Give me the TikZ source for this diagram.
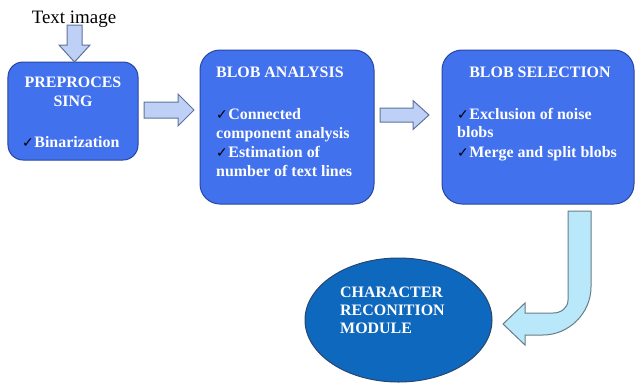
\documentclass[tikz,border=0pt]{standalone}
\usepackage{fontspec}
\setmainfont{Liberation Serif}
\newfontfamily\tms{Liberation Serif}
\newfontfamily\dvs{DejaVu Sans}
\usetikzlibrary{shapes.geometric}
\definecolor{boxfill}{RGB}{66,113,238}
\definecolor{boxline}{RGB}{40,70,160}
\definecolor{ellfill}{RGB}{14,104,190}
\definecolor{ellline}{RGB}{40,70,110}
\definecolor{arrfill}{RGB}{190,208,245}
\definecolor{arrline}{RGB}{95,115,155}
\definecolor{bentfill}{RGB}{185,232,250}
\definecolor{bentline}{RGB}{105,125,135}
\newcommand\ck{{\dvs\fontsize{14}{14}\selectfont\textcolor{black}{✓}}\hspace{0.5bp}}
\tikzset{
  stagebox/.style={draw=boxline, fill=boxfill, line width=1bp, inner sep=0pt},
  modell/.style={ellipse, draw=ellline, fill=ellfill, line width=1bp, inner sep=0pt},
  wtxt/.style={text=white, inner sep=0pt, font=\tms\bfseries\fontsize{16}{19}\selectfont},
  wl/.style={wtxt, anchor=base west},
  wc/.style={wtxt, anchor=base},
  blockarrow/.style={draw=arrline, fill=arrfill, line width=1bp, line join=miter},
  bentarrow/.style={draw=bentline, fill=bentfill, line width=1bp, line join=miter},
}
\begin{document}
\begin{tikzpicture}[x=1bp,y=-1bp]
\useasboundingbox (0,0) rectangle (638,383);
\fill[white] (0,0) rectangle (638,383);

% stages
\node[stagebox, rounded corners=15bp, minimum width=130bp, minimum height=98bp] (pre) at (73,111) {};
\node[stagebox, rounded corners=20bp, minimum width=174bp, minimum height=154bp] (ana) at (287,127) {};
\node[stagebox, rounded corners=20bp, minimum width=192bp, minimum height=154bp] (sel) at (538,127) {};
\node[modell, minimum width=187bp, minimum height=124bp] (crm) at (398.5,320) {};

% input label
\node[anchor=base, inner sep=0pt, font=\tms\fontsize{19}{22}\selectfont] (inp) at (74,23) {Text image};

% block arrows
\draw[blockarrow] (67,25) -- (82,25) -- (82,45) -- (90,45) -- (74.5,62) -- (59,45) -- (67,45) -- cycle;
\draw[blockarrow] (144,102) -- (178,102) -- (178,94) -- (194,110) -- (178,126) -- (178,118) -- (144,118) -- cycle;
\draw[blockarrow] (380,108) -- (413,108) -- (413,100.5) -- (429,115) -- (413,129.5) -- (413,122) -- (380,122) -- cycle;
\draw[bentarrow] (568,211) -- (591,211) -- (591,287)
  .. controls (591,313) and (569,335) .. (543,335)
  -- (525,335) -- (525,345) -- (503,324) -- (525,303) -- (525,313) -- (553,313)
  .. controls (561,313) and (568,308) .. (568,300) -- cycle;

% texts box 1
\node[wc] (t1a) at (73,87) {PREPROCES};
\node[wc] (t1b) at (73,106) {SING};
\node[wl] (t1c) at (22,147) {\ck Binarization};

% texts box 2
\node[wl] (t2a) at (216,77) {BLOB ANALYSIS};
\node[wl] (t2b) at (216,119) {\ck Connected};
\node[wl] (t2c) at (216,138) {component analysis};
\node[wl] (t2d) at (216,157) {\ck Estimation of};
\node[wl] (t2e) at (216,176) {number of text lines};

% texts box 3
\node[wc] (t3a) at (540,77) {BLOB SELECTION};
\node[wl] (t3b) at (457,119) {\ck Exclusion of noise};
\node[wl] (t3c) at (457,137) {blobs};
\node[wl] (t3d) at (457,157) {\ck Merge and split blobs};

% ellipse text
\node[wl] (t4a) at (340,297) {CHARACTER};
\node[wl] (t4b) at (340,315) {RECONITION};
\node[wl] (t4c) at (340,333) {MODULE};
\end{tikzpicture}
\end{document}
